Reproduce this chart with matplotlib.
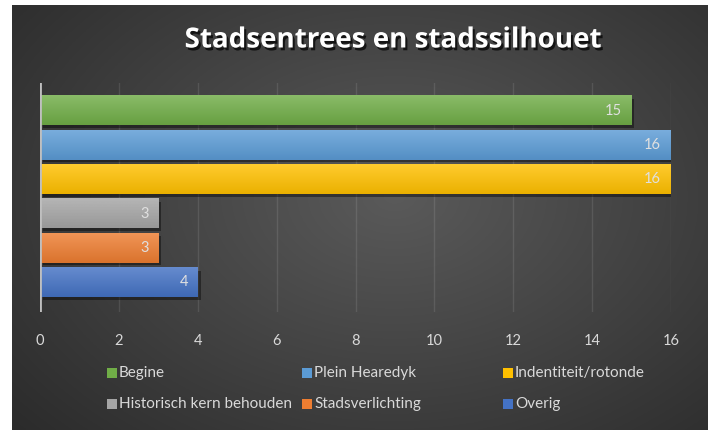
import numpy as np
import matplotlib.pyplot as plt
import matplotlib.patheffects as pe
from matplotlib.colors import to_rgb
from matplotlib.patches import Rectangle

title = "Stadsentrees en stadssilhouet"
names = ["Begine", "Plein Hearedyk", "Indentiteit/rotonde",
         "Historisch kern behouden", "Stadsverlichting", "Overig"]
values = [15, 16, 16, 3, 3, 4]
colors = ["#70AD47", "#5B9BD5", "#FFC000", "#A5A5A5", "#ED7D31", "#4472C4"]
xticks = [0, 2, 4, 6, 8, 10, 12, 14, 16]

W, H = 709, 430
fig = plt.figure(figsize=(W / 100, H / 100), dpi=100)
fig.patch.set_facecolor("white")
plt.rcParams["font.family"] = ["Lato", "DejaVu Sans"]

# dark panel with radial gradient
bg = fig.add_axes([12 / W, 0, (708 - 12) / W, (430 - 5) / H])
bg.set_axis_off()
yy, xx = np.mgrid[0:1:300j, 0:1:500j]
r = np.sqrt(((xx - 0.55) / 0.75) ** 2 + ((yy - 0.45) / 0.85) ** 2)
r = np.clip(r, 0, 1)
c_in, c_out = np.array(to_rgb("#5a5a5a")), np.array(to_rgb("#2a2a2a"))
img = c_in[None, None, :] * (1 - r[..., None]) + c_out[None, None, :] * r[..., None]
bg.imshow(img, aspect="auto", extent=[0, 1, 0, 1], origin="upper")
bg.set_xlim(0, 1)
bg.set_ylim(0, 1)

ax = fig.add_axes([40 / W, 1 - 312 / H, (671 - 40) / W, (312 - 83) / H])
ax.patch.set_alpha(0)
pos = np.arange(len(values))
bh = 0.85
bars = ax.barh(pos, values, height=bh, color=colors, zorder=3)
for b in bars:
    b.set_path_effects([pe.SimplePatchShadow(offset=(2, -2), shadow_rgbFace="black", alpha=0.4),
                        pe.Normal()])

# vertical gradient over each bar (lighter top)
for p, v, c in zip(pos, values, colors):
    base = np.array(to_rgb(c))
    top = base + (1 - base) * 0.18
    bot = base * 0.92
    t = np.linspace(0, 1, 50)[:, None]
    grad = top[None, :] * (1 - t[..., None]) + bot[None, :] * t[..., None]
    grad = np.repeat(grad, 2, axis=1)
    ax.imshow(grad, aspect="auto", extent=[0, v, p + bh / 2, p - bh / 2],
              origin="upper", zorder=4)
    ax.text(v - 0.25, p, str(v), ha="right", va="center", color="#e0e0e0",
            fontsize=10.5, zorder=5)

ax.set_xlim(0, 16)
ax.set_ylim(5.86, -0.8)
ax.set_xticks(xticks)
ax.set_xticklabels([str(t) for t in xticks])
ax.set_yticks([])
ax.tick_params(axis="x", length=0, colors="#d9d9d9", labelsize=10.5, pad=16)
for s in ax.spines.values():
    s.set_visible(False)
ax.grid(axis="x", color="white", alpha=0.1, linewidth=1, zorder=1)
ax.axvline(0, color="#bfbfbf", linewidth=2, zorder=6)
ax.set_aspect("auto")

fig.text(393 / W, 1 - 40 / H, title, ha="center", va="center", color="white",
         fontsize=20, fontweight="bold", family=["Open Sans", "DejaVu Sans"],
         path_effects=[pe.withSimplePatchShadow(offset=(1.5, -2), shadow_rgbFace="black", alpha=0.7)])

# legend, row-wise like the original
col_x = [107, 302, 503]
row_y = [373, 404]
for i, (n, c) in enumerate(zip(names, colors)):
    x0 = col_x[i % 3]
    y0 = row_y[i // 3]
    fig.patches.append(Rectangle((x0 / W, 1 - (y0 + 5) / H), 10 / W, 10 / H,
                                 transform=fig.transFigure, facecolor=c, edgecolor="none"))
    fig.text((x0 + 12) / W, 1 - y0 / H, n, ha="left", va="center",
             color="#d9d9d9", fontsize=11)

fig.savefig("out.png", dpi=100, facecolor=fig.get_facecolor())
